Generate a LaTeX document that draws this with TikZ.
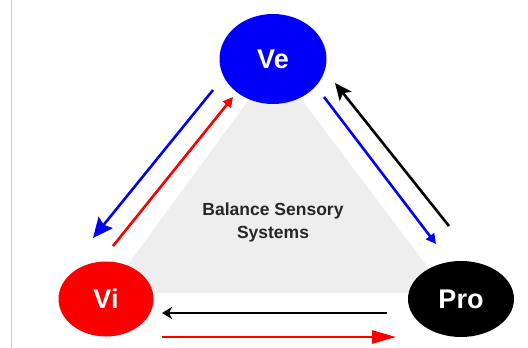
\documentclass[tikz,border=0pt]{standalone}
\usepackage{fontspec}
\setmainfont{Liberation Sans}
\usetikzlibrary{arrows.meta,shapes.geometric}

\begin{document}
\begin{tikzpicture}[x=1pt,y=-1pt,line join=round]
  % ----- styles & colors -----
    \definecolor{veblue}{RGB}{0,0,250}      % vestibular
    \definecolor{vired}{RGB}{250,0,0}       % vision
    \definecolor{trigray}{RGB}{238,238,238} % triangle
    \definecolor{rulegray}{RGB}{200,200,200}
  \tikzset{
    sense/.style={ellipse,inner sep=0pt,text=white,font=\bfseries\fontsize{27}{27}\selectfont},
    arr/.style={line width=2.6pt,draw=#1}
  }

  \useasboundingbox (0,0) rectangle (528,348);

  % ----- background -----
  \draw[rulegray,line width=0.8pt] (11,0) -- (11,348);
  \fill[trigray] (275,64) -- (447,293) -- (107,293) -- cycle;

  \node[font=\bfseries\fontsize{17.5}{23}\selectfont, text=black!85, align=center] (label) at (273,222) {Balance Sensory\\Systems};

  % ----- the three senses -----
  \node[sense, fill=veblue, minimum width=107pt, minimum height=90pt] (ve) at (273,59) {Ve};
  \node[sense, fill=vired, minimum width=95pt, minimum height=75pt] (vi) at (106,299) {Vi};
  \node[sense, fill=black, minimum width=106pt, minimum height=76pt] (pro) at (461,299) {Pro};

  % ----- arrow ends -----
  \coordinate (vevi1) at (213,90);  \coordinate (vevi2) at (93,238);
  \coordinate (vive1) at (113,246); \coordinate (vive2) at (233,97);
  \coordinate (prove1) at (449,226); \coordinate (prove2) at (335,83);
  \coordinate (vepro1) at (324,97); \coordinate (vepro2) at (436,244);
  \coordinate (provi1) at (387,313); \coordinate (provi2) at (162,313);
  \coordinate (vipro1) at (162,337); \coordinate (vipro2) at (396,337);

  % ----- exchanges -----
  \draw[arr=veblue, -{Stealth[length=20pt,width=18pt,inset=3pt]}] (vevi1) -- (vevi2);
  \draw[arr=vired, -{Triangle[length=10pt,width=10pt]}] (vive1) -- (vive2);
  \draw[arr=black, -{Stealth[length=17pt,width=15pt,inset=4pt]}] (prove1) -- (prove2);
  \draw[arr=veblue, -{Triangle[length=10pt,width=10pt]}] (vepro1) -- (vepro2);
  \draw[arr=black, -{Stealth[length=10pt,width=12pt,inset=3pt]}] (provi1) -- (provi2);
  \draw[arr=vired, -{Triangle[length=24pt,width=13pt]}] (vipro1) -- (vipro2);

\end{tikzpicture}
\end{document}
